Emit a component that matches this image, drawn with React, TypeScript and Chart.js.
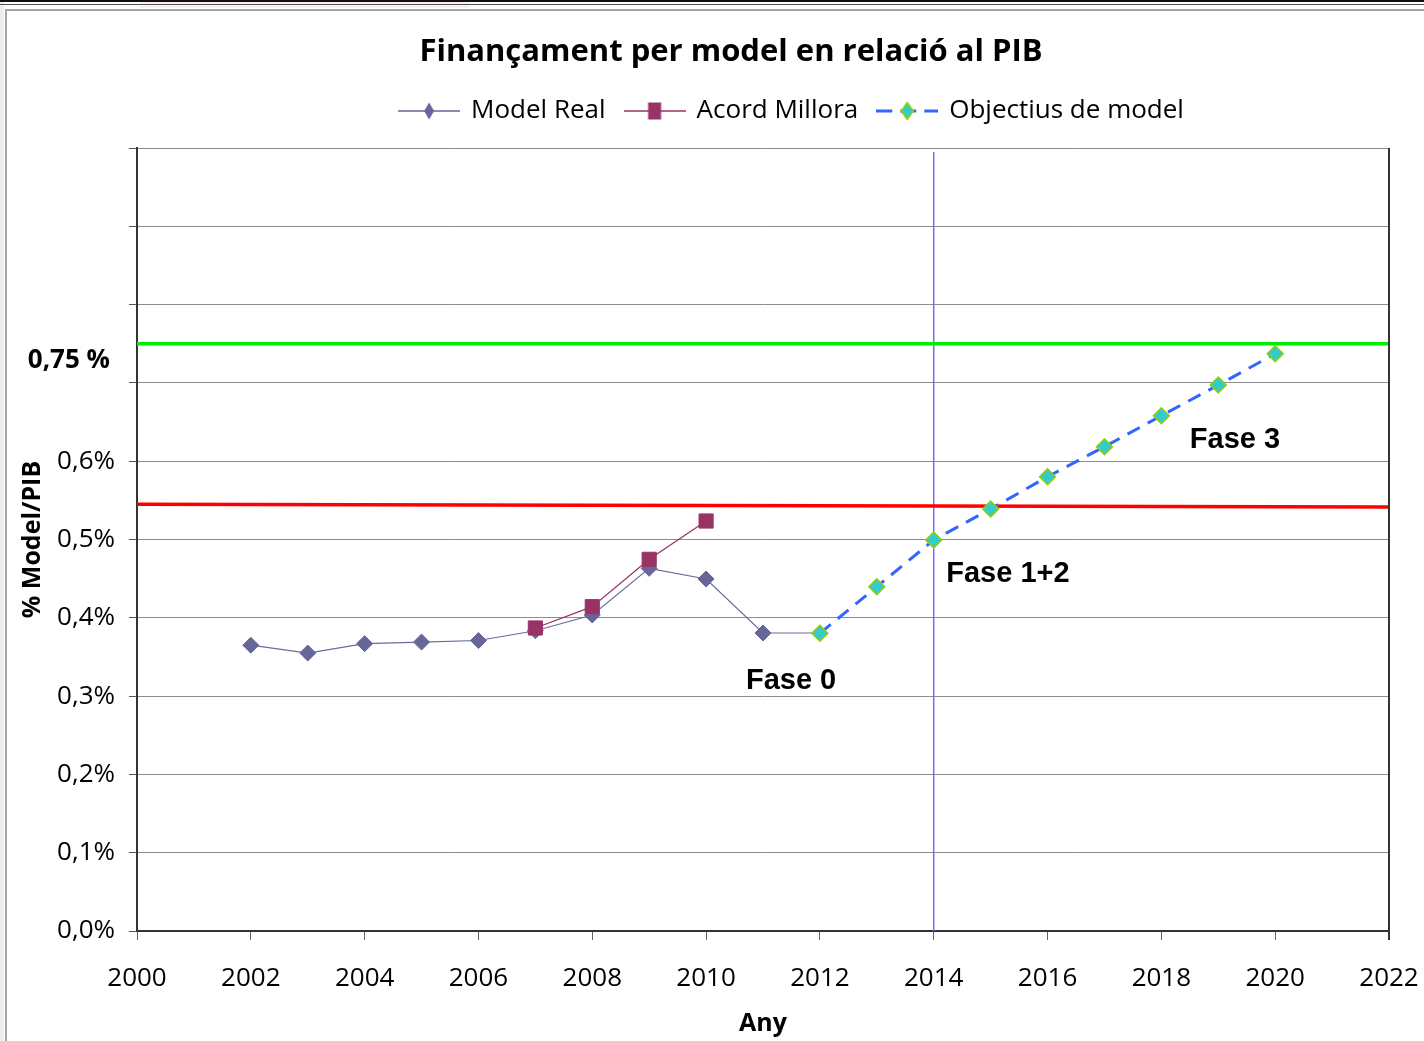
import React, { useEffect, useRef } from 'react';
import { Chart, registerables } from 'chart.js';

Chart.register(...registerables);

// ---------- data ----------
const realYears = [2002, 2003, 2004, 2005, 2006, 2007, 2008, 2009, 2010, 2011, 2012];
const modelReal = [0.365, 0.355, 0.367, 0.369, 0.371, 0.3835, 0.4036, 0.4632, 0.4496, 0.3806, 0.3806];

const acordYears = [2007, 2008, 2009, 2010];
const acordMillora = [0.387, 0.4142, 0.4747, 0.5236];

const objYears = [2012, 2013, 2014, 2015, 2016, 2017, 2018, 2019, 2020];
const objectius = [0.3802, 0.4397, 0.4994, 0.539, 0.5802, 0.6185, 0.6581, 0.6973, 0.7373];

const xTicks = [2000, 2002, 2004, 2006, 2008, 2010, 2012, 2014, 2016, 2018, 2020, 2022];
const yTicks = [0, 0.1, 0.2, 0.3, 0.4, 0.5, 0.6, 0.7, 0.8, 0.9, 1.0];
const yLabelMax = 0.6;

const targetLevel = 0.75; // green line ("0,75 %")
const targetLabel = '0,75 %';
const redYears = [2000, 2022];
const redLevel = [0.545, 0.5415];
const phaseYear = 2014;
const phaseSpan = [0, 0.995];

const phaseLabels = ['Fase 0', 'Fase 1+2', 'Fase 3'];
const phaseX = [2010.7, 2014.22, 2018.5];
const phaseY = [0.319, 0.456, 0.627];

const seriesNames = ['Model Real', 'Acord Millora', 'Objectius de model'];

const titleText = 'Finançament per model en relació al PIB';
const xTitle = 'Any';
const yTitle = '% Model/PIB';

// ---------- helpers ----------
function makeIcon(
  lineColor: string,
  lineWidth: number,
  dash: number[],
  shape: 'diamond' | 'square',
  rx: number,
  ry: number,
  fill: string,
  border: string,
  borderW: number
) {
  const c = document.createElement('canvas');
  c.width = 62;
  c.height = 24;
  const ctx = c.getContext('2d')!;
  ctx.strokeStyle = lineColor;
  ctx.lineWidth = lineWidth;
  ctx.setLineDash(dash);
  ctx.beginPath();
  ctx.moveTo(0, 12);
  ctx.lineTo(62, 12);
  ctx.stroke();
  ctx.setLineDash([]);
  ctx.fillStyle = fill;
  ctx.strokeStyle = border;
  ctx.lineWidth = borderW;
  ctx.beginPath();
  if (shape === 'diamond') {
    ctx.moveTo(31, 12 - ry);
    ctx.lineTo(31 + rx, 12);
    ctx.lineTo(31, 12 + ry);
    ctx.lineTo(31 - rx, 12);
    ctx.closePath();
  } else {
    ctx.rect(31 - rx, 12 - ry, 2 * rx, 2 * ry);
  }
  ctx.fill();
  if (borderW > 0) ctx.stroke();
  return c;
}

const decorPlugin = {
  id: 'decor',
  afterLayout(chart: any) {
    const shift = (box: any, center: number, dy: number) => {
      if (!box) return;
      const d = center - (box.left + box.right) / 2;
      box.left += d;
      box.right += d;
      box.top += dy;
      box.bottom += dy;
    };
    shift(chart.titleBlock, 731, -13);
    shift(chart.legend, 792, -14);
  },
  beforeDraw(chart: any) {
    const ctx = chart.ctx;
    ctx.save();
    ctx.fillStyle = '#ffffff';
    ctx.fillRect(0, 0, chart.width, chart.height);
    ctx.fillStyle = '#f1eded';
    ctx.fillRect(0, 0, 4, chart.height);
    ctx.fillStyle = '#fdf0f0';
    ctx.fillRect(140, 0, 330, 8);
    ctx.strokeStyle = '#111';
    ctx.lineWidth = 2;
    ctx.beginPath();
    ctx.moveTo(0, 1);
    ctx.lineTo(chart.width, 1);
    ctx.stroke();
    ctx.lineWidth = 1;
    ctx.strokeStyle = '#555';
    ctx.beginPath();
    ctx.moveTo(0, 4.5);
    ctx.lineTo(chart.width, 4.5);
    ctx.stroke();
    ctx.strokeStyle = '#a5a5a5';
    ctx.lineWidth = 2;
    ctx.strokeRect(6, 10, chart.width + 20, chart.height + 20);
    ctx.restore();
  },
  afterDraw(chart: any) {
    const ctx = chart.ctx;
    const { chartArea } = chart;
    const xs = chart.scales.x;
    const ys = chart.scales.y;
    ctx.save();
    // right border of plot area
    ctx.strokeStyle = '#333';
    ctx.lineWidth = 2;
    ctx.beginPath();
    ctx.moveTo(chartArea.right, chartArea.top);
    ctx.lineTo(chartArea.right, chartArea.bottom + 9);
    ctx.stroke();
    // target label
    ctx.fillStyle = '#000';
    ctx.font = 'bold 26px "Open Sans"';
    ctx.textAlign = 'right';
    ctx.textBaseline = 'middle';
    ctx.fillText(targetLabel, chartArea.left - 27, ys.getPixelForValue(targetLevel) + 17);
    // phase labels
    ctx.font = 'bold 29px "Liberation Sans"';
    ctx.textAlign = 'left';
    phaseLabels.forEach((t, i) => {
      ctx.fillText(t, xs.getPixelForValue(phaseX[i]), ys.getPixelForValue(phaseY[i]));
    });
    ctx.restore();
  },
};

export default function App() {
  const ref = useRef<HTMLCanvasElement>(null);

  useEffect(() => {
    if (!ref.current) return;
    const icons = [
      makeIcon('#666699', 1.5, [], 'diamond', 5, 8.5, '#666699', '#666699', 0),
      makeIcon('#993366', 1.5, [], 'square', 6.5, 8.5, '#993366', '#993366', 0),
      makeIcon('#3366ff', 3, [16, 8], 'diamond', 6, 8.5, '#33cccc', '#99cc00', 1.5),
    ];
    const chart = new Chart(ref.current, {
      type: 'line',
      data: {
        datasets: [
          {
            label: seriesNames[0],
            data: realYears.map((x, i) => ({ x, y: modelReal[i] })),
            borderColor: '#6a6a9e',
            borderWidth: 1.2,
            pointStyle: 'rectRot',
            pointRadius: 8,
            pointBackgroundColor: '#666699',
            pointBorderColor: '#666699',
            pointBorderWidth: 1,
            tension: 0,
            order: 3,
          },
          {
            label: seriesNames[1],
            data: acordYears.map((x, i) => ({ x, y: acordMillora[i] })),
            borderColor: '#993366',
            borderWidth: 1.2,
            pointStyle: 'rect',
            pointRadius: 10,
            pointBackgroundColor: '#993366',
            pointBorderColor: '#993366',
            pointBorderWidth: 1,
            tension: 0,
            order: 2,
          },
          {
            label: seriesNames[2],
            data: objYears.map((x, i) => ({ x, y: objectius[i] })),
            borderColor: '#3366ff',
            borderWidth: 3,
            borderDash: [14, 9],
            pointStyle: 'rectRot',
            pointRadius: 8,
            pointBackgroundColor: '#33cccc',
            pointBorderColor: '#99cc00',
            pointBorderWidth: 1.5,
            tension: 0,
            order: 1,
          },
          {
            label: 'target',
            data: redYears.map((x) => ({ x, y: targetLevel })),
            borderColor: '#00ee00',
            borderWidth: 3.5,
            pointRadius: 0,
            order: 5,
          },
          {
            label: 'red',
            data: redYears.map((x, i) => ({ x, y: redLevel[i] })),
            borderColor: '#ff0000',
            borderWidth: 3.5,
            pointRadius: 0,
            order: 5,
          },
          {
            label: 'phase',
            data: phaseSpan.map((y) => ({ x: phaseYear, y })),
            borderColor: '#6f6fff',
            borderWidth: 1.5,
            pointRadius: 0,
            order: 6,
          },
        ],
      },
      options: {
        responsive: false,
        animation: false,
        events: [],
        layout: { padding: { left: 0, right: 35, top: 0, bottom: 0 } },
        plugins: {
          tooltip: { enabled: false },
          title: {
            display: true,
            text: titleText,
            color: '#000',
            font: { family: 'Open Sans', size: 31, weight: 'bold', lineHeight: 1.2 },
            padding: { top: 34, bottom: 8 },
          },
          legend: {
            display: true,
            position: 'top',
            labels: {
              color: '#000',
              font: { family: 'Open Sans', size: 26 },
              padding: 20,
              usePointStyle: true,
              pointStyleWidth: 58,
              generateLabels: () =>
                seriesNames.map((text, i) => ({
                  text,
                  datasetIndex: i,
                  pointStyle: icons[i] as any,
                  fillStyle: '#000',
                  strokeStyle: '#000',
                  lineWidth: 0,
                  hidden: false,
                  fontColor: '#000',
                })),
            },
          },
        },
        scales: {
          x: {
            type: 'linear',
            min: 2000,
            max: 2022,
            afterBuildTicks: (s: any) => {
              s.ticks = xTicks.map((value) => ({ value }));
            },
            afterFit: (s: any) => {
              s.height = 110;
              s.paddingRight = 35;
              s.paddingLeft = 0;
            },
            ticks: {
              color: '#000',
              font: { family: 'Open Sans', size: 26 },
              padding: 23,
              maxRotation: 0,
              autoSkip: false,
              callback: (v: any) => String(v),
            },
            grid: {
              drawOnChartArea: false,
              drawTicks: true,
              tickLength: 9,
              tickColor: '#666',
            },
            border: { color: '#333', width: 2 },
            title: {
              display: true,
              text: xTitle,
              color: '#000',
              font: { family: 'Open Sans', size: 25, weight: 'bold', lineHeight: 1.2 },
              padding: { top: 0, bottom: 2 },
            },
          },
          y: {
            type: 'linear',
            min: 0,
            max: 1,
            afterBuildTicks: (s: any) => {
              s.ticks = yTicks.map((value) => ({ value }));
            },
            afterFit: (s: any) => {
              s.width = 137;
              s.paddingTop = 148;
              s.paddingBottom = 0;
            },
            ticks: {
              color: '#000',
              font: { family: 'Open Sans', size: 26 },
              padding: 14,
              autoSkip: false,
              callback: (v: any) =>
                v <= yLabelMax + 1e-9 ? v.toFixed(1).replace('.', ',') + '%' : '',
            },
            grid: {
              color: '#8c8c8c',
              lineWidth: 1,
              drawTicks: true,
              tickLength: 8,
              tickColor: '#555',
            },
            border: { color: '#333', width: 2 },
            title: {
              display: true,
              text: yTitle,
              color: '#000',
              font: { family: 'Open Sans', size: 25, weight: 'bold', lineHeight: 1.2 },
              padding: { top: 18, bottom: 0 },
            },
          },
        },
      },
      plugins: [decorPlugin],
    } as any);
    return () => chart.destroy();
  }, []);

  return (
    <div style={{ position: 'absolute', left: 0, top: 0, width: 1424, height: 1041 }}>
      <canvas ref={ref} width={1424} height={1041} />
    </div>
  );
}
